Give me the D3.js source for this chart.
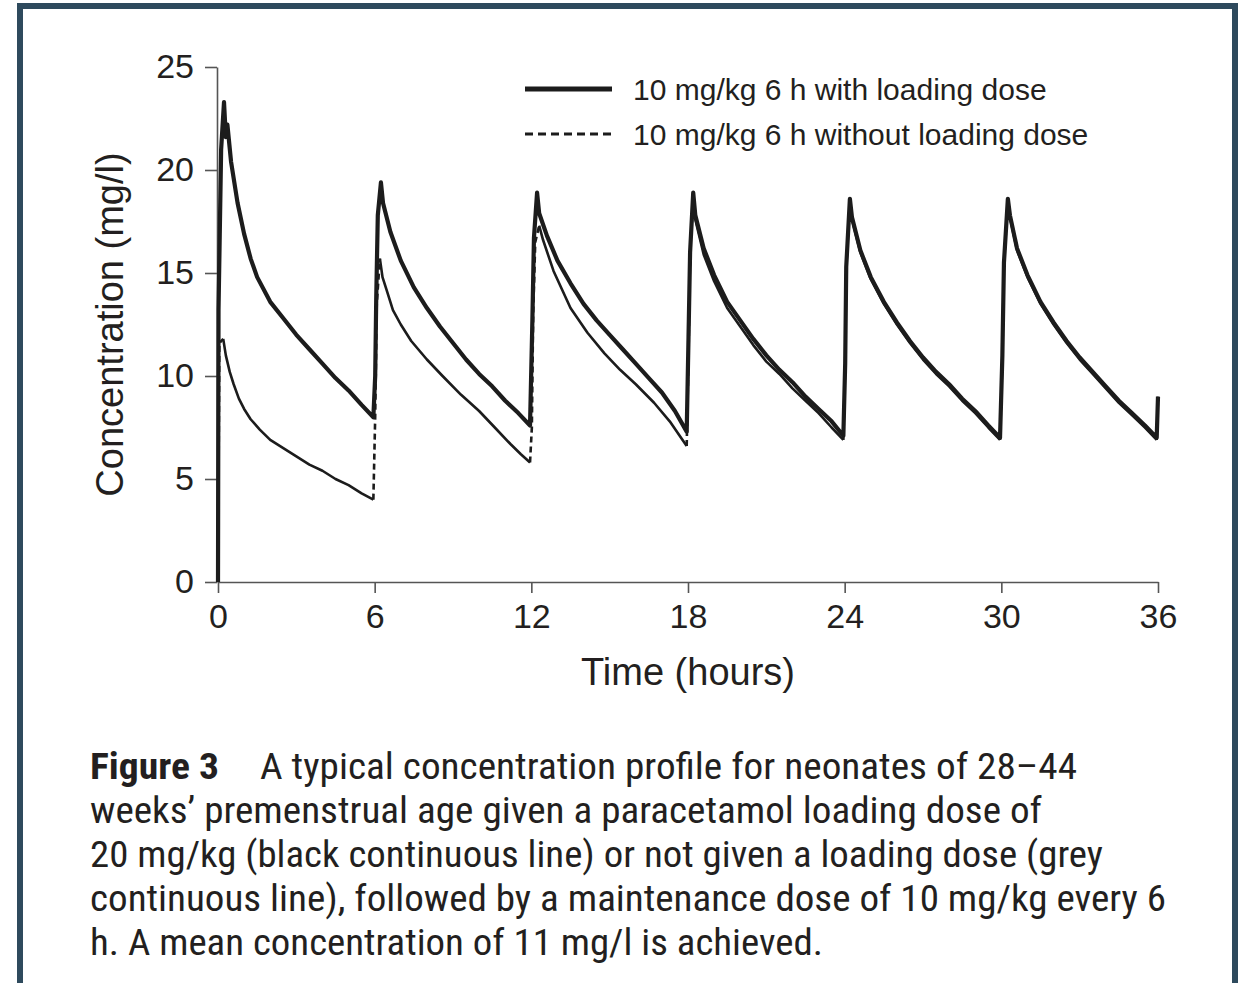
<!DOCTYPE html>
<html>
<head>
<meta charset="utf-8">
<script src="https://cdn.jsdelivr.net/npm/d3@7"></script>
<style>
  body { margin: 0; background: #fff; }
  svg { display: block; }
</style>
</head>
<body>
<div id="chart"></div>
<script>
// dose times / x ticks
var xTicks = [0, 6, 12, 18, 24, 30, 36];
var yTicks = [0, 5, 10, 15, 20, 25];

var seriesNames = ["10 mg/kg 6 h with loading dose", "10 mg/kg 6 h without loading dose"];

// with loading dose (time h, conc mg/l)
var timeLoad = [0, 0.02, 0.12, 0.23, 0.3, 0.36, 0.5, 0.75, 1.0, 1.25, 1.5, 2.0, 2.5, 3.0, 3.5, 4.0, 4.5, 5.0, 5.5, 5.95,
  6.02, 6.06, 6.12, 6.24, 6.32, 6.6, 7.0, 7.5, 8.0, 8.5, 9.0, 9.5, 10.0, 10.5, 11.0, 11.5, 11.95,
  12.04, 12.1, 12.22, 12.3, 12.6, 13.0, 13.5, 14.0, 14.5, 15.0, 15.5, 16.0, 16.5, 17.0, 17.5, 17.95,
  18.02, 18.08, 18.2, 18.28, 18.6, 19.0, 19.5, 20.0, 20.5, 21.0, 21.5, 22.0, 22.5, 23.0, 23.5, 23.95,
  24.02, 24.06, 24.2, 24.28, 24.6, 25.0, 25.5, 26.0, 26.5, 27.0, 27.5, 28.0, 28.5, 29.0, 29.5, 29.95,
  30.04, 30.1, 30.25, 30.33, 30.6, 31.0, 31.5, 32.0, 32.5, 33.0, 33.5, 34.0, 34.5, 35.0, 35.5, 35.95, 36.0];
var concLoad = [0, 13.2, 21.0, 23.3, 21.6, 22.2, 20.4, 18.4, 16.9, 15.7, 14.8, 13.6, 12.8, 12.0, 11.3, 10.6, 9.9, 9.3, 8.6, 8.0,
  10.0, 13.8, 17.8, 19.4, 18.4, 17.0, 15.6, 14.3, 13.3, 12.4, 11.6, 10.8, 10.1, 9.5, 8.8, 8.2, 7.6,
  12.7, 16.7, 18.9, 17.9, 16.8, 15.6, 14.5, 13.5, 12.7, 12.0, 11.3, 10.6, 9.9, 9.2, 8.3, 7.3,
  11.9, 16.0, 18.9, 17.8, 16.2, 14.9, 13.6, 12.7, 11.8, 11.0, 10.3, 9.7, 9.0, 8.4, 7.8, 7.1,
  10.6, 15.3, 18.6, 17.7, 16.1, 14.8, 13.6, 12.6, 11.7, 10.9, 10.2, 9.6, 8.9, 8.3, 7.6, 7.0,
  11.0, 15.5, 18.6, 17.8, 16.2, 14.9, 13.6, 12.6, 11.7, 10.9, 10.2, 9.5, 8.8, 8.2, 7.6, 7.0, 9.0];

// without loading dose
var timeNo = [0, 0.05, 0.2, 0.3, 0.45, 0.6, 0.8, 1.0, 1.25, 1.6, 2.0, 2.5, 3.0, 3.5, 4.0, 4.5, 5.0, 5.5, 5.95,
  6.02, 6.08, 6.2, 6.3, 6.45, 6.7, 7.0, 7.4, 8.0, 8.6, 9.3, 10.0, 10.6, 11.2, 11.6, 11.95,
  12.02, 12.07, 12.15, 12.3, 12.45, 12.85, 13.5, 14.15, 14.8, 15.4, 16.0, 16.7, 17.3, 17.95,
  18.02, 18.08, 18.2, 18.28, 18.6, 19.0, 19.5, 20.0, 20.5, 21.0, 21.5, 22.0, 22.5, 23.0, 23.5, 23.95,
  24.02, 24.06, 24.2, 24.28, 24.6, 25.0, 25.5, 26.0, 26.5, 27.0, 27.5, 28.0, 28.5, 29.0, 29.5, 29.95,
  30.04, 30.1, 30.25, 30.33, 30.6, 31.0, 31.5, 32.0, 32.5, 33.0, 33.5, 34.0, 34.5, 35.0, 35.5, 35.95, 36.0];
var concNo = [0, 11.6, 11.8, 11.0, 10.2, 9.6, 8.9, 8.4, 7.9, 7.4, 6.9, 6.5, 6.1, 5.7, 5.4, 5.0, 4.7, 4.3, 4.0,
  8.0, 13.5, 15.7, 14.8, 14.2, 13.2, 12.5, 11.7, 10.8, 10.0, 9.1, 8.3, 7.5, 6.7, 6.2, 5.8,
  7.5, 13.0, 16.5, 17.3, 16.6, 15.1, 13.3, 12.1, 11.1, 10.3, 9.6, 8.7, 7.8, 6.6,
  11.0, 16.0, 18.7, 17.6, 15.9, 14.6, 13.3, 12.4, 11.5, 10.7, 10.1, 9.4, 8.8, 8.2, 7.5, 6.9,
  10.5, 15.2, 18.5, 17.6, 16.0, 14.7, 13.5, 12.5, 11.6, 10.8, 10.1, 9.5, 8.8, 8.2, 7.5, 6.9,
  10.9, 15.4, 18.5, 17.7, 16.1, 14.8, 13.5, 12.5, 11.6, 10.8, 10.1, 9.4, 8.7, 8.1, 7.5, 6.9, 9.0];

var captionBold = "Figure 3";
var captionLines = [
  "A typical concentration profile for neonates of 28\u201344",
  "weeks\u2019 premenstrual age given a paracetamol loading dose of",
  "20 mg/kg (black continuous line) or not given a loading dose (grey",
  "continuous line), followed by a maintenance dose of 10 mg/kg every 6",
  "h. A mean concentration of 11 mg/l is achieved."
];

var W = 1243, H = 983;
var margin = { top: 67, right: 85, bottom: 401, left: 218 };

var svg = d3.select("#chart").append("svg")
  .attr("width", W)
  .attr("height", H);

// frame
svg.append("path")
  .attr("d", "M20,990 V6 H1235 V990")
  .style("fill", "none")
  .style("stroke", "#2e4a5d")
  .style("stroke-width", 6);

var x = d3.scaleLinear().domain([0, 36]).range([margin.left, W - margin.right]);
var y = d3.scaleLinear().domain([0, 25]).range([H - margin.bottom, margin.top]);

var tickFont = '"Liberation Sans", Arial, sans-serif';

// axes
var gx = svg.append("g")
  .attr("transform", "translate(0," + y(0) + ")")
  .call(d3.axisBottom(x).tickValues(xTicks).tickSize(11).tickSizeOuter(0).tickPadding(11));
var gy = svg.append("g")
  .attr("transform", "translate(" + (x(0) - 1) + ",0)")
  .call(d3.axisLeft(y).tickValues(yTicks).tickSize(12).tickSizeOuter(0).tickPadding(11));

[gx, gy].forEach(function (g) {
  g.selectAll("path, line").style("stroke", "#555").style("stroke-width", 1.6);
  g.selectAll("text")
    .style("font-family", tickFont)
    .style("font-size", "34px")
    .style("fill", "#231f20");
});

// axis titles
svg.append("text")
  .attr("x", (x(0) + x(36)) / 2)
  .attr("y", 685)
  .attr("text-anchor", "middle")
  .style("font-family", tickFont)
  .style("font-size", "38px")
  .style("fill", "#231f20")
  .text("Time (hours)");

svg.append("text")
  .attr("transform", "translate(123," + (y(0) + y(25)) / 2 + ") rotate(-90)")
  .attr("text-anchor", "middle")
  .style("font-family", tickFont)
  .style("font-size", "38px")
  .style("fill", "#231f20")
  .text("Concentration (mg/l)");

var line = d3.line()
  .x(function (d) { return x(d.t); })
  .y(function (d) { return y(d.c); });

var loadData = timeLoad.map(function (t, i) { return { t: t, c: concLoad[i] }; });
var noData = timeNo.map(function (t, i) { return { t: t, c: concNo[i] }; });

// split the no-loading series into rising (dashed) and falling (solid) runs
var runs = [];
var cur = null;
for (var i = 1; i < noData.length; i++) {
  var up = noData[i].c > noData[i - 1].c;
  if (!cur || cur.up !== up) {
    cur = { up: up, pts: [noData[i - 1]] };
    runs.push(cur);
  }
  cur.pts.push(noData[i]);
}

svg.selectAll("path.no")
  .data(runs)
  .enter().append("path")
  .attr("class", "no")
  .attr("d", function (d) { return line(d.pts); })
  .style("fill", "none")
  .style("stroke", "#1c1c1c")
  .style("stroke-width", 2.6)
  .style("stroke-linejoin", "round")
  .style("stroke-dasharray", function (d) { return d.up ? "6,4" : null; });

svg.append("path")
  .datum(loadData)
  .attr("class", "load")
  .attr("d", line)
  .style("fill", "none")
  .style("stroke", "#1c1c1c")
  .style("stroke-width", 4.2)
  .style("stroke-linejoin", "round");

// legend
var legend = svg.append("g");
legend.append("line")
  .attr("x1", 525).attr("x2", 612).attr("y1", 89).attr("y2", 89)
  .style("stroke", "#1c1c1c").style("stroke-width", 5);
legend.append("line")
  .attr("x1", 525).attr("x2", 612).attr("y1", 134).attr("y2", 134)
  .style("stroke", "#1c1c1c").style("stroke-width", 3).style("stroke-dasharray", "8,5");
legend.selectAll("text")
  .data(seriesNames)
  .enter().append("text")
  .attr("x", 633)
  .attr("y", function (d, i) { return 100 + i * 45; })
  .style("font-family", tickFont)
  .style("font-size", "30px")
  .style("fill", "#231f20")
  .text(function (d) { return d; });

// caption
var capFont = '"Liberation Sans Narrow", "Roboto Condensed", Roboto, sans-serif';
var capEnds = [1077, 1042, 1103, 1166, 823];
var cap = svg.append("g")
  .style("font-family", capFont)
  .style("font-size", "36px")
  .style("fill", "#231f20");

cap.append("text")
  .attr("x", 90).attr("y", 779)
  .attr("textLength", 129)
  .attr("lengthAdjust", "spacingAndGlyphs")
  .style("font-weight", "bold")
  .text(captionBold);

cap.selectAll("text.line")
  .data(captionLines)
  .enter().append("text")
  .attr("class", "line")
  .attr("x", function (d, i) { return i === 0 ? 260 : 90; })
  .attr("y", function (d, i) { return 779 + i * 44; })
  .attr("textLength", function (d, i) { return capEnds[i] - (i === 0 ? 260 : 90); })
  .attr("lengthAdjust", "spacingAndGlyphs")
  .text(function (d) { return d; });
</script>
</body>
</html>
